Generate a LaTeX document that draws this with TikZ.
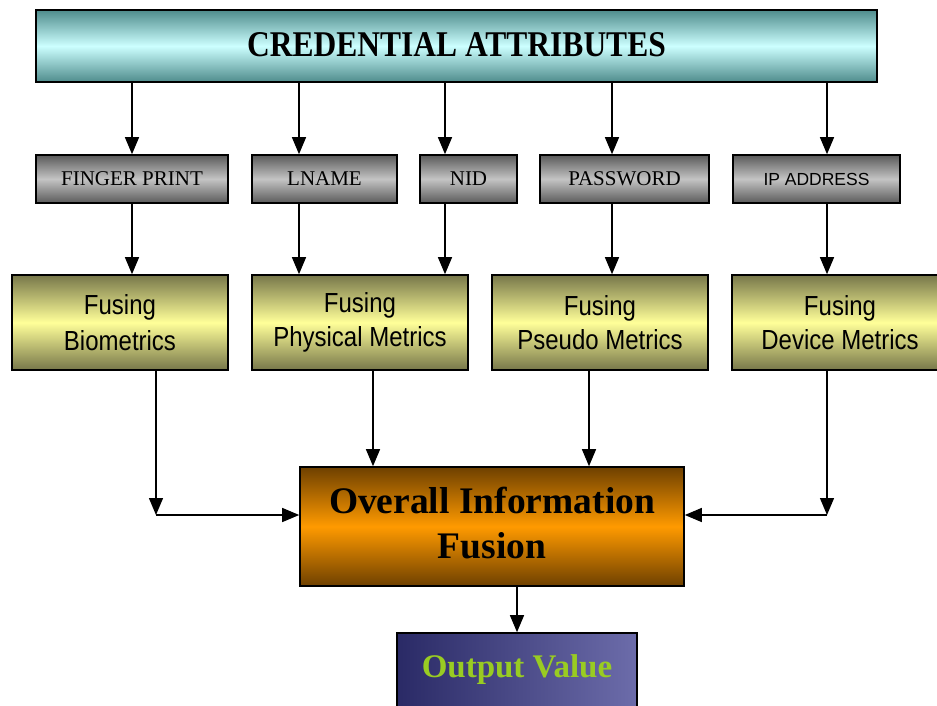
\documentclass[tikz,border=0pt]{standalone}
\usepackage{fontspec}
\setmainfont{Liberation Serif}
\newfontfamily\arialf{Liberation Sans}
\usetikzlibrary{arrows.meta}
\definecolor{tealdark}{HTML}{4F8C8C}
\definecolor{teallight}{HTML}{CCFFFF}
\definecolor{graydark}{HTML}{5A5A5A}
\definecolor{graylight}{HTML}{C4C4C4}
\definecolor{olivedark}{HTML}{77774A}
\definecolor{yellowlight}{HTML}{FFFF99}
\definecolor{orangedark}{HTML}{6E4000}
\definecolor{orangemid}{HTML}{FF9A00}
\definecolor{navydark}{HTML}{2A2A66}
\definecolor{navylight}{HTML}{6C6CAA}
\definecolor{outgreen}{HTML}{99CC22}
\newcommand{\tallt}[1]{\scalebox{1}[1.15]{#1}}
\tikzset{
  box/.style={draw=black, line width=1.6pt, rectangle, inner sep=0pt, align=center},
  credbox/.style={box, top color=tealdark, bottom color=tealdark, middle color=teallight},
  attrbox/.style={box, top color=graydark, bottom color=graydark, middle color=graylight, minimum height=48pt},
  fusebox/.style={box, top color=olivedark, bottom color=olivedark, middle color=yellowlight, minimum width=216pt, minimum height=95pt},
  overallbox/.style={box, top color=orangedark, bottom color=orangedark, middle color=orangemid},
  outbox/.style={box, left color=navydark, right color=navylight},
  arr/.style={line width=1.3pt, -{Triangle[length=17pt,width=14pt]}},
  attrtxt/.style={font=\fontsize{21}{24}\selectfont},
  fusetxt/.style={font=\arialf\fontsize{24}{34}\selectfont},
}
\begin{document}
\begin{tikzpicture}[x=1pt,y=-1pt]
\useasboundingbox (0,0) rectangle (937,705);
\clip (0,0) rectangle (937,705);
% top
\node[credbox, minimum width=841pt, minimum height=72pt, font=\bfseries\fontsize{31.5}{36}\selectfont] (cred) at (456.5,46) {\raisebox{2pt}{\tallt{CREDENTIAL ATTRIBUTES}}};
% attributes
\node[attrbox, attrtxt, minimum width=192pt] (fp) at (132,179) {FINGER PRINT};
\node[attrbox, attrtxt, minimum width=145pt] (lname) at (324.5,179) {LNAME};
\node[attrbox, attrtxt, minimum width=97pt] (nid) at (468.5,179) {NID};
\node[attrbox, attrtxt, minimum width=169pt] (pw) at (624.5,179) {PASSWORD};
\node[attrbox, minimum width=167pt, font=\arialf\fontsize{17.5}{21}\selectfont] (ip) at (816.5,179) {IP ADDRESS};
% fusing boxes
\node[fusebox, fusetxt] (bio) at (120,322.5) {\tallt{Fusing}\\[2pt]\tallt{Biometrics}};
\node[fusebox, fusetxt] (phys) at (360,322.5) {\tallt{Fusing}\\\tallt{Physical Metrics}};
\node[fusebox, fusetxt] (pseudo) at (600,322.5) {\tallt{Fusing}\\\tallt{Pseudo Metrics}};
\node[fusebox, fusetxt] (dev) at (840,322.5) {\tallt{Fusing}\\\tallt{Device Metrics}};
% overall
\node[overallbox, minimum width=384pt, minimum height=119pt, font=\bfseries\fontsize{37.5}{45}\selectfont] (overall) at (492,526.5) {\raisebox{4pt}{\begin{tabular}{@{}c@{}}Overall Information\\Fusion\end{tabular}}};
% output
\node[outbox, minimum width=240pt, minimum height=84pt, font=\bfseries\fontsize{33}{36}\selectfont, text=outgreen] (out) at (517,675) {\raisebox{17pt}{Output Value}};
% x positions of the connectors
\coordinate (xa) at (132,0);
\coordinate (xb) at (299,0);
\coordinate (xc) at (445,0);
\coordinate (xd) at (612,0);
\coordinate (xe) at (827,0);
\coordinate (xf) at (373,0);
\coordinate (xg) at (589,0);
\coordinate (xh) at (517,0);
\coordinate (jl) at (156,515);
\coordinate (jr) at (827,515);
% top to attributes
\draw[arr] (cred.south -| xa) -- (fp.north -| xa);
\draw[arr] (cred.south -| xb) -- (lname.north -| xb);
\draw[arr] (cred.south -| xc) -- (nid.north -| xc);
\draw[arr] (cred.south -| xd) -- (pw.north -| xd);
\draw[arr] (cred.south -| xe) -- (ip.north -| xe);
% attributes to fusing
\draw[arr] (fp.south -| xa) -- (bio.north -| xa);
\draw[arr] (lname.south -| xb) -- (phys.north -| xb);
\draw[arr] (nid.south -| xc) -- (phys.north -| xc);
\draw[arr] (pw.south -| xd) -- (pseudo.north -| xd);
\draw[arr] (ip.south -| xe) -- (dev.north -| xe);
% fusing to overall
\draw[arr] (bio.south -| jl) -- (jl);
\draw[arr] (jl) -- (overall.west |- jl);
\draw[arr] (phys.south -| xf) -- (overall.north -| xf);
\draw[arr] (pseudo.south -| xg) -- (overall.north -| xg);
\draw[arr] (dev.south -| jr) -- (jr);
\draw[arr] (jr) -- (overall.east |- jr);
% overall to output
\draw[arr] (overall.south -| xh) -- (out.north -| xh);
\end{tikzpicture}
\end{document}
